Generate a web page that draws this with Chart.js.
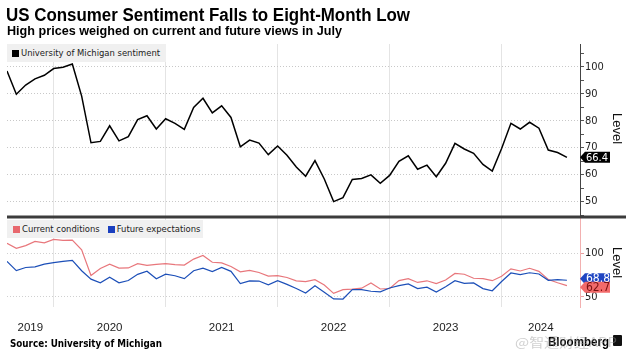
<!DOCTYPE html>
<html><head><meta charset="utf-8">
<script src="https://cdn.jsdelivr.net/npm/chart.js@4"></script>
<style>
html,body{margin:0;padding:0;background:#fff;width:632px;height:355px;overflow:hidden;}
#wrap{position:relative;width:632px;height:355px;}
canvas{position:absolute;left:0;top:0;}
.t{position:absolute;white-space:nowrap;transform-origin:0 0;line-height:1;}
.leg{position:absolute;background:#f0f0f0;font:9.4px 'Liberation Sans Narrow','DejaVu Sans Condensed','Liberation Sans',sans-serif;color:#222;white-space:nowrap;}
.sq{display:inline-block;width:7px;height:7px;margin-right:2px;vertical-align:-0.5px;}
.lvl{position:absolute;font:13px 'Liberation Sans',sans-serif;color:#111;transform-origin:0 0;transform:rotate(90deg);white-space:nowrap;line-height:1;}
</style></head><body>
<div id="wrap">
<canvas id="c" width="632" height="355"></canvas>
<div class="t" id="title" style="left:6px;top:4.5px;font:bold 18px 'Liberation Sans',sans-serif;color:#000">US Consumer Sentiment Falls to Eight-Month Low</div>
<div class="t" id="sub" style="left:7px;top:24px;font:bold 12.5px 'Liberation Sans',sans-serif;color:#000">High prices weighed on current and future views in July</div>
<div class="leg" style="left:7px;top:44px;width:159px;height:18px;line-height:18px;padding-left:5px;box-sizing:border-box"><span class="sq" style="background:#000"></span><span id="l1">University of Michigan sentiment</span></div>
<div class="leg" style="left:7px;top:220px;width:196px;height:18px;line-height:18px;padding-left:6px;box-sizing:border-box"><span class="sq" style="background:#e8686e"></span><span id="l2">Current conditions</span>&nbsp;&nbsp;&nbsp;<span class="sq" style="background:#1a3fbf"></span><span id="l3">Future expectations</span></div>
<div class="lvl" style="left:624px;top:113px">Level</div>
<div class="lvl" style="left:624px;top:247px">Level</div>
<div class="t" id="src" style="left:10px;top:337px;font:bold 10.3px 'DejaVu Sans',sans-serif;color:#000">Source: University of Michigan</div>
<div class="t" id="bb" style="left:548px;top:335px;font:bold 12.5px 'Liberation Sans',sans-serif;color:#000">Bloomberg</div>
<div style="position:absolute;left:613px;top:335px;width:9px;height:11px;background:#111;border-radius:1px"></div>
<div class="t" id="wm" style="left:515px;top:332px;font:13px 'Noto Sans CJK SC',sans-serif;color:rgba(150,150,150,0.45)">@智通财经APP</div>
</div>
<script>
// ---- data ----
const months = [
 'Jul-19','Aug-19','Sep-19','Oct-19','Nov-19','Dec-19',
 'Jan-20','Feb-20','Mar-20','Apr-20','May-20','Jun-20','Jul-20','Aug-20','Sep-20','Oct-20','Nov-20','Dec-20',
 'Jan-21','Feb-21','Mar-21','Apr-21','May-21','Jun-21','Jul-21','Aug-21','Sep-21','Oct-21','Nov-21','Dec-21',
 'Jan-22','Feb-22','Mar-22','Apr-22','May-22','Jun-22','Jul-22','Aug-22','Sep-22','Oct-22','Nov-22','Dec-22',
 'Jan-23','Feb-23','Mar-23','Apr-23','May-23','Jun-23','Jul-23','Aug-23','Sep-23','Oct-23','Nov-23','Dec-23',
 'Jan-24','Feb-24','Mar-24','Apr-24','May-24','Jun-24','Jul-24'];
const sentiment = [
 98.4,89.8,93.2,95.5,96.8,99.3,
 99.8,101.0,89.1,71.8,72.3,78.1,72.5,74.1,80.4,81.8,76.9,80.7,
 79.0,76.8,84.9,88.3,82.9,85.5,81.2,70.3,72.8,71.7,67.4,70.6,
 67.2,62.8,59.4,65.2,58.4,50.0,51.5,58.2,58.6,59.9,56.8,59.7,
 64.9,67.0,62.0,63.5,59.2,64.2,71.6,69.5,67.9,63.8,61.3,69.7,
 79.0,76.9,79.4,77.2,69.1,68.2,66.4];
const currentConditions = [
 111.1,105.3,108.5,113.2,111.6,115.5,
 114.4,114.8,103.7,74.3,82.3,87.1,82.8,82.9,87.8,85.9,87.0,87.8,
 86.7,86.2,93.0,97.2,89.4,88.6,84.5,78.5,80.1,77.7,73.6,74.2,
 72.0,68.2,67.2,69.4,63.3,53.8,58.1,58.6,59.7,65.6,58.8,59.4,
 68.4,70.7,66.3,68.2,64.9,69.0,76.6,75.7,71.1,70.6,68.3,73.3,
 81.9,79.4,82.5,79.0,69.6,65.9,62.7];
const futureExpectations = [
 90.5,79.9,83.4,84.2,87.3,88.9,
 90.5,91.5,79.7,70.1,65.9,72.3,65.9,68.5,75.6,79.2,70.5,75.8,
 74.0,70.7,79.7,82.7,78.8,83.5,79.0,65.1,68.1,67.9,63.5,68.3,
 64.1,59.4,54.3,62.5,55.2,47.5,47.3,58.0,58.0,56.2,55.6,59.9,
 62.7,64.7,59.2,60.9,55.4,61.3,68.3,65.3,65.7,59.3,56.8,67.4,
 77.1,75.2,77.4,76.0,68.8,69.6,68.8];
const yearLabels = ['2019','2020','2021','2022','2023','2024'];
const topMajorTicks = [50,60,70,80,90,100];
const topMinorTicks = [45,55,65,75,85,95,105];
const bottomTicks = [50,100];

// ---- text fitting ----
function fitW(id, w){ const el=document.getElementById(id); const cur=el.getBoundingClientRect().width; el.style.transform='scaleX('+(w/cur)+')'; }
fitW('title', 404); fitW('sub', 335); fitW('src', 152); fitW('bb', 61); fitW('wm', 102);

const toXY = arr => arr.map((v,i)=>({x:i, y:v}));

// year boundary (end of December) indexes and label positions
const XMAX = months.length - 1 + 1.4;
const bounds = yearLabels.slice(0,-1).map(y => months.indexOf('Dec-' + y.slice(2)));
const edges = [0, ...bounds, XMAX];
const labelPos = yearLabels.map((y,i)=> (edges[i]+edges[i+1])/2);
const xTickVals = [...bounds, ...labelPos].sort((a,b)=>a-b);
const labelMap = {}; labelPos.forEach((p,i)=>labelMap[p.toFixed(3)] = yearLabels[i]);
const boundSet = new Set(bounds.map(b=>b.toFixed(3)));

const narrow = "'Liberation Sans Narrow','DejaVu Sans Condensed','Liberation Sans',sans-serif";

function drawTag(ctx, x, y, text, bg, fg, size){
  const h = 11, a = 5, w = 25;
  ctx.save();
  ctx.beginPath();
  ctx.moveTo(x, y);
  ctx.lineTo(x + a, y - h/2);
  ctx.lineTo(x + a + w, y - h/2);
  ctx.lineTo(x + a + w, y + h/2);
  ctx.lineTo(x + a, y + h/2);
  ctx.closePath();
  ctx.fillStyle = bg; ctx.fill();
  ctx.fillStyle = fg; ctx.font = size + 'px ' + narrow;
  ctx.textBaseline = 'middle'; ctx.textAlign = 'left';
  ctx.fillText(text, x + a + 1, y + 0.5);
  ctx.restore();
}

const overlay = {
  id:'overlay',
  afterDraw(chart){
    const ctx = chart.ctx, ys = chart.scales.y, y2 = chart.scales.y2;
    // separator
    ctx.save();
    ctx.strokeStyle = '#3c3c3c'; ctx.lineWidth = 3;
    ctx.beginPath(); ctx.moveTo(chart.chartArea.left, ys.bottom); ctx.lineTo(626, ys.bottom); ctx.stroke();
    ctx.restore();
    // last value tags
    const ax = ys.left;
    const last = a => a[a.length-1];
    drawTag(ctx, ax, ys.getPixelForValue(last(sentiment)), last(sentiment).toFixed(1), '#000', '#fff', 11);
    let pb = y2.getPixelForValue(last(futureExpectations));
    let pr = y2.getPixelForValue(last(currentConditions));
    const minSep = 8.5;
    if (Math.abs(pr - pb) < minSep) {
      const mid = (pr + pb)/2, s = pr >= pb ? 1 : -1;
      pr = mid + s*minSep/2; pb = mid - s*minSep/2;
    }
    drawTag(ctx, ax, pb, last(futureExpectations).toFixed(1), '#1f45c2', '#fff', 12);
    drawTag(ctx, ax, pr, last(currentConditions).toFixed(1), '#f26a6a', '#7a1010', 12);
  }
};

new Chart(document.getElementById('c'), {
  type:'line',
  data:{
    datasets:[
      {label:'University of Michigan sentiment', data:toXY(sentiment), yAxisID:'y', borderColor:'#000', borderWidth:1.5, pointRadius:0, tension:0},
      {label:'Future expectations', data:toXY(futureExpectations), yAxisID:'y2', borderColor:'#1c4fb8', borderWidth:1.2, pointRadius:0, tension:0},
      {label:'Current conditions', data:toXY(currentConditions), yAxisID:'y2', borderColor:'#e8777c', borderWidth:1.2, pointRadius:0, tension:0}
    ]
  },
  options:{
    responsive:false, animation:false, devicePixelRatio:1,
    layout:{padding:{left:7, right:0, top:44, bottom:8}},
    plugins:{legend:{display:false}, tooltip:{enabled:false}},
    scales:{
      x:{
        type:'linear', min:0, max:XMAX,
        afterBuildTicks: s => { s.ticks = xTickVals.map(v=>({value:v})); },
        afterFit: s => { s.height = 40; },
        ticks:{ autoSkip:false, maxRotation:0, padding:14, color:'#222',
          font:{family:"'Liberation Sans',sans-serif", size:11.5},
          callback: v => labelMap[Number(v).toFixed(3)] || '' },
        grid:{ drawTicks:false, lineWidth:1,
          color: c => (c.tick && boundSet.has(Number(c.tick.value).toFixed(3))) ? '#e4e4e4' : 'rgba(0,0,0,0)' },
        border:{display:false}
      },
      y:{
        type:'linear', position:'right', stack:'panels', stackWeight:173,
        min:44.3, max:108.4,
        afterBuildTicks: s => { s.ticks = [...topMinorTicks, ...topMajorTicks].sort((a,b)=>a-b).map(v=>({value:v})); },
        afterFit: s => { s.width = 52; },
        ticks:{ autoSkip:false, padding:1, color:'#222', font:{family:narrow, size:11},
          callback: v => topMajorTicks.includes(v) ? String(v) : '' },
        grid:{ drawTicks:true, tickLength:4, tickColor:'#555', tickWidth:1, lineWidth:1,
          color: c => (c.tick && topMajorTicks.includes(c.tick.value)) ? '#c8c8c8' : 'rgba(0,0,0,0)' },
        border:{ display:true, color:'#444', width:1, dash:[1,2] }
      },
      y2:{
        type:'linear', position:'right', stack:'panels', stackWeight:90,
        min:38.2, max:141.2,
        afterBuildTicks: s => { s.ticks = bottomTicks.map(v=>({value:v})); },
        afterFit: s => { s.width = 52; },
        ticks:{ autoSkip:false, padding:1, color:'#222', font:{family:narrow, size:11},
          callback: v => String(v) },
        grid:{ drawTicks:true, tickLength:4, tickColor:'#e9a0a0', tickWidth:1, lineWidth:1, color:'#d0d0d0' },
        border:{ display:true, color:'#f2b0b0', width:1, dash:[1,2] }
      }
    }
  },
  plugins:[overlay]
});
</script>
</body></html>
